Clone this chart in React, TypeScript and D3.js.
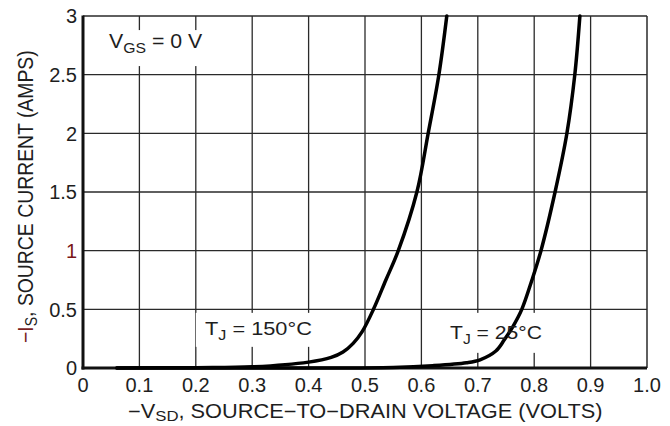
import React, { useEffect, useRef } from 'react';
import * as d3 from 'd3';

// -VSD (volts) vs -IS (amps)
const hotVolts = [0.06, 0.2, 0.3, 0.4, 0.44, 0.461, 0.479, 0.495, 0.515, 0.537, 0.559, 0.592, 0.612, 0.631, 0.645];
const hotAmps = [0, 0.003, 0.01, 0.05, 0.09, 0.136, 0.21, 0.31, 0.5, 0.75, 1.0, 1.5, 2.0, 2.5, 3.0];

const roomVolts = [0.06, 0.4, 0.55, 0.62, 0.68, 0.704, 0.732, 0.747, 0.763, 0.778, 0.796, 0.812, 0.837, 0.858, 0.872, 0.881];
const roomAmps = [0, 0, 0.005, 0.02, 0.045, 0.07, 0.145, 0.24, 0.36, 0.5, 0.75, 1.0, 1.5, 2.0, 2.5, 3.0];

const xTicks = [0, 0.1, 0.2, 0.3, 0.4, 0.5, 0.6, 0.7, 0.8, 0.9, 1.0];
const xTickLabels = ['0', '0.1', '0.2', '0.3', '0.4', '0.5', '0.6', '0.7', '0.8', '0.9', '1.0'];
const yTicks = [0, 0.5, 1, 1.5, 2, 2.5, 3];
const yTickLabels = ['0', '0.5', '1', '1.5', '2', '2.5', '3'];

const FONT = 'Liberation Sans, Arial, sans-serif';
const INK = '#1e1e1e';

const App = () => {
  const ref = useRef<SVGSVGElement>(null);

  useEffect(() => {
    const svg = d3.select(ref.current);
    svg.selectAll('*').remove();

    const x = d3.scaleLinear().domain([0, 1]).range([83, 647]);
    const y = d3.scaleLinear().domain([0, 3]).range([368, 16]);

    svg.append('rect').attr('width', 670).attr('height', 426).attr('fill', '#fff');

    // grid
    const grid = svg.append('g').attr('stroke', '#2a2a2a').attr('stroke-width', 1.3);
    xTicks.slice(1, -1).forEach(v => {
      grid.append('line').attr('x1', x(v)).attr('x2', x(v)).attr('y1', y(0)).attr('y2', y(3));
    });
    yTicks.slice(1, -1).forEach(v => {
      grid.append('line').attr('x1', x(0)).attr('x2', x(1)).attr('y1', y(v)).attr('y2', y(v));
    });

    // frame: thin top/right, heavy left/bottom
    svg.append('line').attr('x1', x(0)).attr('x2', x(1)).attr('y1', y(3)).attr('y2', y(3))
      .attr('stroke', '#2a2a2a').attr('stroke-width', 1.5);
    svg.append('line').attr('x1', x(1)).attr('x2', x(1)).attr('y1', y(0)).attr('y2', y(3))
      .attr('stroke', '#2a2a2a').attr('stroke-width', 1.5);
    svg.append('line').attr('x1', x(0)).attr('x2', x(0)).attr('y1', y(0) + 1.5).attr('y2', y(3) - 0.5)
      .attr('stroke', '#111').attr('stroke-width', 3);
    svg.append('line').attr('x1', x(0) - 1.5).attr('x2', x(1)).attr('y1', y(0)).attr('y2', y(0))
      .attr('stroke', '#111').attr('stroke-width', 3);

    // label backgrounds break the grid
    const boxes = [
      [x(0.03), y(2.88), x(0.22) - x(0.03), 36],
      [x(0.2), y(0.47), x(0.46) - x(0.2), 34],
      [x(0.63), y(0.47), x(0.82) - x(0.63), 40],
    ];
    boxes.forEach(b => {
      svg.append('rect').attr('x', b[0]).attr('y', b[1]).attr('width', b[2]).attr('height', b[3]).attr('fill', '#fff');
    });

    // stretch a text element horizontally to the width seen in the figure
    const fit = (t: any, width: number, ax: number, ay: number) => {
      const w = (t.node() as SVGTextElement).getBBox().width;
      const s = w > 0 ? width / w : 1;
      t.attr('transform', `translate(${ax},${ay}) scale(${s},1) translate(${-ax},${-ay})`);
    };

    const label = (px: number, py: number, size: number, main: string, sub: string, rest: string, width: number) => {
      const t = svg.append('text').attr('x', px).attr('y', py)
        .attr('font-family', FONT).attr('font-size', size).attr('fill', INK);
      t.append('tspan').text(main);
      t.append('tspan').attr('font-size', size * 0.74).attr('dy', 5).text(sub);
      t.append('tspan').attr('dy', -5).text(rest);
      fit(t, width, px, py);
    };

    // curves
    const line = d3.line<[number, number]>()
      .x(d => x(d[0]))
      .y(d => Math.min(y(d[1]), y(0)))
      .curve(d3.curveCatmullRom.alpha(0.5));
    [[hotVolts, hotAmps], [roomVolts, roomAmps]].forEach(([vs, is]) => {
      svg.append('path')
        .attr('d', line(vs.map((v, i) => [v, is[i]] as [number, number])))
        .attr('fill', 'none').attr('stroke', '#000').attr('stroke-width', 3.5)
        .attr('stroke-linecap', 'round');
    });

    label(109, 48, 20, 'V', 'GS', ' = 0 V', 94);
    label(205, 335, 19, 'T', 'J', ' = 150°C', 107);
    label(450, 339, 19, 'T', 'J', ' = 25°C', 92);

    // tick labels
    svg.append('g').selectAll('text').data(xTicks).enter().append('text')
      .attr('x', d => x(d)).attr('y', 392)
      .attr('text-anchor', 'middle')
      .attr('font-family', FONT).attr('font-size', 20).attr('fill', INK)
      .text((d, i) => xTickLabels[i]);
    svg.append('g').selectAll('text').data(yTicks).enter().append('text')
      .attr('x', 77).attr('y', d => y(d)).attr('dy', '0.36em')
      .attr('text-anchor', 'end')
      .attr('font-family', FONT).attr('font-size', 20)
      .attr('fill', d => (d === 1 ? '#7a1616' : INK))
      .text((d, i) => yTickLabels[i]);

    // axis titles
    const xt = svg.append('text').attr('x', 128).attr('y', 418)
      .attr('font-family', FONT).attr('font-size', 19.5).attr('fill', INK);
    xt.append('tspan').text('−V');
    xt.append('tspan').attr('font-size', 15).attr('dy', 3).text('SD');
    xt.append('tspan').attr('dy', -3).text(', SOURCE−TO−DRAIN VOLTAGE (VOLTS)');
    fit(xt, 475, 128, 418);

    const yt = svg.append('text').attr('x', 0).attr('y', 0)
      .attr('font-family', FONT).attr('font-size', 22).attr('fill', INK);
    yt.append('tspan').attr('fill', '#7a1f1f').text('−I');
    yt.append('tspan').attr('font-size', 16).attr('dy', 4).text('S');
    yt.append('tspan').attr('dy', -4).text(', SOURCE CURRENT (AMPS)');
    const yw = (yt.node() as SVGTextElement).getBBox().width;
    const ys = yw > 0 ? 293 / yw : 1;
    yt.attr('transform', `translate(33,343) rotate(-90) scale(${ys},1)`);
  }, []);

  return <svg ref={ref} width={670} height={426} style={{ position: 'absolute', left: 0, top: 0 }} />;
};

export default App;
